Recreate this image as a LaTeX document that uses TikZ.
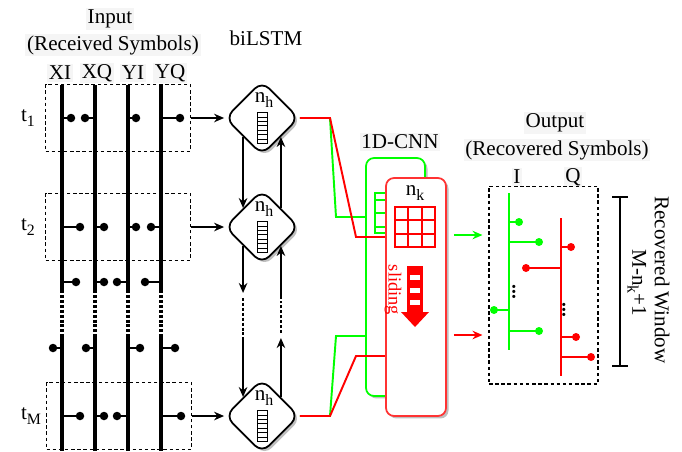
\documentclass[tikz,border=0pt]{standalone}
\usepackage{fontspec}
\setmainfont{Liberation Serif}
\usetikzlibrary{arrows.meta,shapes.geometric,shadows}

\newcommand{\lowidx}[1]{\raisebox{-0.5ex}{\fontsize{9}{10}\selectfont #1}}

\tikzset{
  cellstack/.pic={
    \foreach \k in {0,...,6}
      \draw[line width=0.5pt] (-5,-15.5+\k*4.43) rectangle ++(10,4.43);
  }
}

\begin{document}
\begin{tikzpicture}[x=0.02cm,y=-0.02cm,
  font=\fontsize{12}{14}\selectfont,
  title/.style={fill=black!4,inner sep=1pt},
  col/.style={line width=1.8pt},
  stub/.style={line width=1.2pt},
  inbox/.style={draw,dash pattern=on 2pt off 1.5pt,line width=0.6pt,minimum width=2.9cm,minimum height=1.34cm,inner sep=0pt},
  outbox/.style={draw,dash pattern=on 2pt off 1.5pt,line width=0.6pt,minimum width=2.18cm,minimum height=3.96cm,inner sep=0pt},
  lstm/.style={draw,diamond,aspect=1,minimum width=1.48cm,minimum height=1.48cm,inner sep=0pt,line width=1pt,rounded corners=2mm,fill=white,
    drop shadow={shadow xshift=0.5mm,shadow yshift=-0.5mm,fill=black,opacity=0.25}},
  cnnbox/.style={rectangle,rounded corners=1.6mm,line width=1pt,fill=white,minimum width=1.2cm,minimum height=4.76cm,inner sep=0pt,
    drop shadow={shadow xshift=0.5mm,shadow yshift=-0.5mm,fill=black,opacity=0.25}},
  arr/.style={line width=1.1pt,-{Stealth[length=2mm,width=1.7mm]}},
  gline/.style={draw=green,line width=1.1pt},
  rline/.style={draw=red,line width=1.1pt},
  dotline/.style={line width=1.8pt,dash pattern=on 1.7pt off 1.1pt},
  dots/.style={rotate=-90,inner sep=0pt,font=\fontsize{11}{12}\selectfont\bfseries}
]
\useasboundingbox (0,0) rectangle (682,451);

% input symbols
\node[title] (inTitle) at (110,19) {Input};
\node[title] (inSub) at (113,45) {(Received Symbols)};
\node[title] (lXI) at (60,73) {XI};
\node[title] (lXQ) at (97,73) {XQ};
\node[title] (lYI) at (133,73) {YI};
\node[title] (lYQ) at (170,73) {YQ};

\node[inbox] (box1) at (118,118) {};
\node[inbox] (box2) at (118,227) {};
\node[inbox] (boxM) at (119,416) {};

\node (t1) at (28,118) {t\lowidx{1}};
\node (t2) at (28,227) {t\lowidx{2}};
\node (tM) at (31,416) {t\lowidx{M}};

\foreach \x in {62,95,128,161} {
  \draw[col] (\x,85) -- (\x,290);
  \draw[dotline] (\x,290) -- (\x,335);
  \draw[col] (\x,335) -- (\x,451);
}
\foreach \y/\a/\b/\c/\d in {118/71/85/136/180, 227/80/104/136/151,
    282/76/104/117/145, 348/53/86/140/175, 416/80/104/117/181} {
  \draw[stub] (62,\y) -- (\a,\y);
  \draw[stub] (95,\y) -- (\b,\y);
  \draw[stub] (128,\y) -- (\c,\y);
  \draw[stub] (161,\y) -- (\d,\y);
  \foreach \p in {\a,\b,\c,\d}
    \fill (\p,\y) circle[radius=0.85mm];
}

% biLSTM
\node (lstmTitle) at (266,38) {biLSTM};
\node[lstm] (lstm1) at (262,118) {};
\node[lstm] (lstm2) at (262,227) {};
\node[lstm] (lstmM) at (262,416) {};
\foreach \n in {lstm1,lstm2,lstmM} {
  \path (\n.center) ++(2,-18) node {n\lowidx{h}};
  \path (\n.center) ++(0,10) pic {cellstack};
}

\draw[arr] (box1) -- (lstm1);
\draw[arr] (box2) -- (lstm2);
\draw[arr] (boxM) -- (lstmM);

\draw[arr] (lstm1.south west) -- (lstm2.north west);
\draw[arr] (lstm2.north east) -- (lstm1.south east);

\coordinate (dnA) at (lstm2.south west |- 0,293);
\coordinate (dnB) at (lstm2.south west |- 0,337);
\coordinate (upA) at (lstm2.south east |- 0,338);
\coordinate (upB) at (lstm2.south east |- 0,297);
\draw[arr] (lstm2.south west) -- (dnA);
\draw[dotline,line width=1.3pt] ([yshift=-1mm]dnA) -- (dnB);
\draw[arr] (dnB) -- (lstmM.north west);
\draw[arr] (lstmM.north east) -- (upA);
\draw[dotline,line width=1.3pt] ([yshift=1mm]upA) -- (upB);
\draw[arr] (upB) -- (lstm2.south east);

% 1D-CNN
\node[title] (cnnTitle) at (400,142) {1D-CNN};
\node[cnnbox,draw=green,minimum width=1.18cm] (cnnG) at (395.5,277) {};
\draw[green,line width=1pt] (375,193) grid[step=0.2667cm] (415,233);
\draw[green,line width=1pt] (375,193) rectangle (415,233);

\draw[gline] (lstm1.east) -- (330,118) -- (336,217) -- (cnnG.west |- 0,217);
\draw[gline] (lstmM.east) -- (330,416) -- (336,336) -- (cnnG.west |- 0,336);
\draw[rline] (lstm1.east) -- (330,118) -- (356,237) -- (386,237);
\draw[rline] (lstmM.east) -- (330,416) -- (356,356) -- (386,356);

\node[cnnbox,draw=red!80] (cnnR) at (416,297) {};
\node (nk) at (415,193) {n\lowidx{k}};
\foreach \i in {0,1,2} \foreach \j in {0,1,2}
  \draw[red,line width=1pt] (395+\i*13.33,207+\j*13.33) rectangle ++(13.33,13.33);

\fill[red] (407,266) rectangle (423,312);
\fill[red] (401,312) -- (429,312) -- (415,327) -- cycle;
\foreach \yy in {275,288,300}
  \fill[white] (410,\yy) rectangle (420,\yy+5);
\node[red,rotate=-90,font=\fontsize{10.5}{12}\selectfont] (slide) at (393,290) {sliding};

% output symbols
\node[title] (outTitle) at (555,123) {Output};
\node[title] (outSub) at (557,150) {(Recovered Symbols)};
\node[title] (lI) at (517,177) {I};
\node[title] (lQ) at (573,177) {Q};
\node[outbox] (outBox) at (543.5,285) {};

\draw[gline,-{Stealth[length=2mm,width=1.7mm]},shorten <=1.4mm,shorten >=1.2mm]
  (cnnR.east |- 0,235) -- (outBox.west |- 0,235);
\draw[rline,-{Stealth[length=2mm,width=1.7mm]},shorten <=1.4mm,shorten >=1.2mm]
  (cnnR.east |- 0,335) -- (outBox.west |- 0,335);

\draw[gline] (509,193) -- (509,350);
\foreach \y/\p in {222/519, 242/539, 310/494, 331/539} {
  \draw[gline] (509,\y) -- (\p,\y);
  \fill[green] (\p,\y) circle[radius=0.8mm];
}
\node[dots] (vdI) at (514,292) {...};

\draw[rline] (561,218) -- (561,376);
\foreach \y/\p in {247/571, 268/526, 337/576, 357/591} {
  \draw[rline] (561,\y) -- (\p,\y);
  \fill[red] (\p,\y) circle[radius=0.8mm];
}
\node[dots] (vdQ) at (564,310) {...};

% recovered window
\draw[line width=1.2pt] (620,197) -- (620,366);
\draw[line width=1.2pt] (612,197) -- (628,197);
\draw[line width=1.2pt] (612,366) -- (628,366);
\node[rotate=-90] (winA) at (662,280) {Recovered Window};
\node[rotate=-90] (winB) at (637,283) {M-n\lowidx{k}+1};
\end{tikzpicture}
\end{document}
